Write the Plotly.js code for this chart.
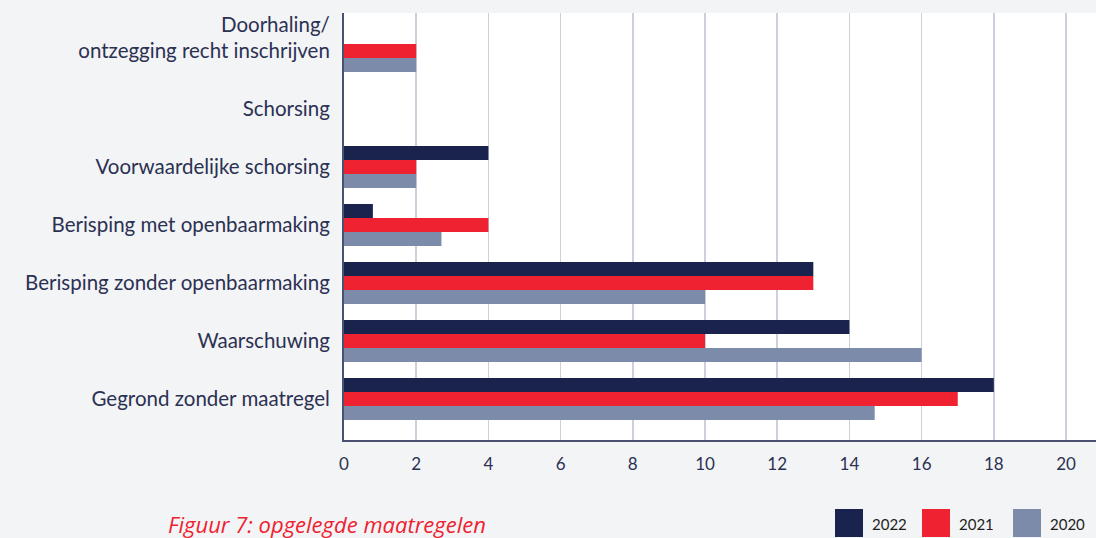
<!DOCTYPE html>
<html>
<head>
<meta charset="utf-8">
<script src="https://cdn.plot.ly/plotly-3.0.1.min.js"></script>
<style>
html,body{margin:0;padding:0;background:#f3f4f6;}
#chart{width:1096px;height:538px;}
</style>
</head>
<body>
<div id="chart"></div>
<script>
// Categories, top to bottom
const categories = [
  "Doorhaling/ontzegging",
  "Schorsing",
  "Voorwaardelijke schorsing",
  "Berisping met openbaarmaking",
  "Berisping zonder openbaarmaking",
  "Waarschuwing",
  "Gegrond zonder maatregel"
];
const categoryLabels = [
  "Doorhaling/<br>ontzegging recht inschrijven<br> ",
  "Schorsing",
  "Voorwaardelijke schorsing",
  "Berisping met openbaarmaking",
  "Berisping zonder openbaarmaking",
  "Waarschuwing",
  "Gegrond zonder maatregel"
];
const values2022 = [0, 0, 4, 0.8, 13, 14, 18];
const values2021 = [2, 0, 2, 4, 13, 10, 17];
const values2020 = [2, 0, 2, 2.7, 10, 16, 14.7];
const xTicks = [0, 2, 4, 6, 8, 10, 12, 14, 16, 18, 20];
const seriesNames = ["2022", "2021", "2020"];
const seriesColors = ["#19234d", "#ee2230", "#7d8bab"];
const seriesValues = [values2022, values2021, values2020];

const traces = seriesNames.map((n, i) => ({
  type: "bar",
  orientation: "h",
  name: n,
  y: categories,
  x: seriesValues[i],
  marker: {color: seriesColors[i], line: {width: 0}},
  hoverinfo: "x+name",
  showlegend: false
}));

// Legend drawn as swatches + text (paper coords)
const plotL = 344, plotW = 752, plotB = 440, plotH = 427;
const px = v => (v - plotL) / plotW;
const py = v => (plotB - v) / plotH;
const legendX = [835, 922, 1013];
const shapes = [];
const annotations = [];
seriesNames.forEach((n, i) => {
  shapes.push({
    type: "rect", xref: "paper", yref: "paper",
    x0: px(legendX[i]), x1: px(legendX[i] + 28),
    y0: py(537), y1: py(509),
    fillcolor: seriesColors[i], line: {width: 0}
  });
  annotations.push({
    xref: "paper", yref: "paper",
    x: px(legendX[i] + 35), y: py(524),
    xanchor: "left", yanchor: "middle",
    text: n, showarrow: false,
    font: {size: 15, color: "#1e1e1e", family: "Lato, sans-serif"}
  });
});
annotations.push({
  xref: "paper", yref: "paper",
  x: px(166), y: py(524), xanchor: "left", yanchor: "middle",
  text: "<i>Figuur 7: opgelegde maatregelen</i>",
  showarrow: false,
  font: {size: 22, color: "#ee2230", family: "'Open Sans', sans-serif"}
});

const layout = {
  width: 1096,
  height: 538,
  margin: {l: 344, r: 0, t: 13, b: 98},
  paper_bgcolor: "#f3f4f6",
  plot_bgcolor: "#ffffff",
  barmode: "group",
  bargap: 0.276,
  bargroupgap: 0,
  showlegend: false,
  font: {family: "Lato, 'Open Sans', sans-serif", color: "#2b3152"},
  xaxis: {
    range: [0, 20.83],
    tickvals: xTicks,
    ticktext: xTicks.map(String),
    showgrid: true,
    gridcolor: "#cdd0dc",
    gridwidth: 1.5,
    zeroline: false,
    showline: true,
    linecolor: "#4a5070",
    linewidth: 2,
    ticks: "",
    ticklabelstandoff: 8,
    tickfont: {size: 17, color: "#2b3152"},
    fixedrange: true
  },
  yaxis: {
    type: "category",
    range: [6.707, -0.655],
    tickvals: categories,
    ticktext: categoryLabels,
    showgrid: false,
    showline: true,
    linecolor: "#4a5070",
    linewidth: 2,
    ticks: "",
    ticklabelstandoff: 8,
    tickfont: {size: 20.5, color: "#2b3152"},
    fixedrange: true
  },
  shapes: shapes,
  annotations: annotations
};

Plotly.newPlot("chart", traces, layout, {displayModeBar: false, staticPlot: true});
</script>
</body>
</html>
